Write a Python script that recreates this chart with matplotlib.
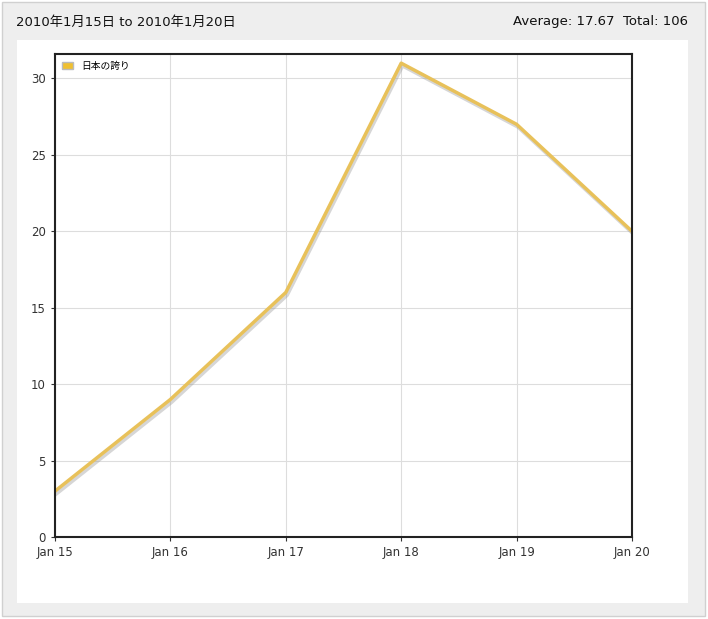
import matplotlib
matplotlib.use("Agg")
import matplotlib.pyplot as plt
from matplotlib.patches import Rectangle, Patch
import matplotlib.patheffects as pe

plt.rcParams['font.family'] = ['DejaVu Sans', 'Noto Sans CJK JP']

dates = ["Jan 15", "Jan 16", "Jan 17", "Jan 18", "Jan 19", "Jan 20"]
values = [3, 9, 16, 31, 27, 20]
series_name = "日本の誇り"
title_left = "2010年1月15日 to 2010年1月20日"
title_right = "Average: 17.67  Total: 106"

W, H = 708, 619
fig = plt.figure(figsize=(W/100, H/100), dpi=100)
fig.patch.set_facecolor("white")
fig.add_artist(Rectangle((2/W, 3/H), 703/W, 614/H, transform=fig.transFigure,
                         facecolor="#eeeeee", edgecolor="#d0d0d0", lw=1, zorder=-10))
fig.add_artist(Rectangle((17/W, 16/H), 671/W, 563/H, transform=fig.transFigure,
                         facecolor="white", edgecolor="none", zorder=-9))
fig.text(16/W, 1-22/H, title_left, fontsize=9.5, va="center", ha="left", color="#111")
fig.text(688/W, 1-22/H, title_right, fontsize=9.5, va="center", ha="right", color="#111")

ax = fig.add_axes([55/W, 1-537/H, 577/W, 483/H])
ax.set_zorder(5)
x = list(range(len(values)))
ax.plot(x, values, color="#e8c15a", lw=2.5, solid_joinstyle="round",
        path_effects=[pe.SimpleLineShadow(offset=(1, -2), shadow_color="#999", alpha=0.4), pe.Normal()])
ax.set_xlim(0, 5)
ax.set_ylim(0, 31.6)
ax.set_xticks(x)
ax.set_xticklabels(dates)
ax.set_yticks(range(0, 31, 5))
ax.grid(True, color="#dddddd", lw=0.8)
ax.set_axisbelow(True)
ax.tick_params(length=3, labelsize=8.5, colors="#333")
for s in ax.spines.values():
    s.set_color("#222"); s.set_linewidth(1.5)
ax.legend(handles=[Patch(facecolor="#f0c030", edgecolor="#bbb", label=series_name)],
          loc="upper left", fontsize=7, frameon=False, handlelength=1.2, borderaxespad=0.3,
          prop={'family': ['Noto Sans CJK JP'], 'size': 7})
fig.savefig("out.png", dpi=100)
